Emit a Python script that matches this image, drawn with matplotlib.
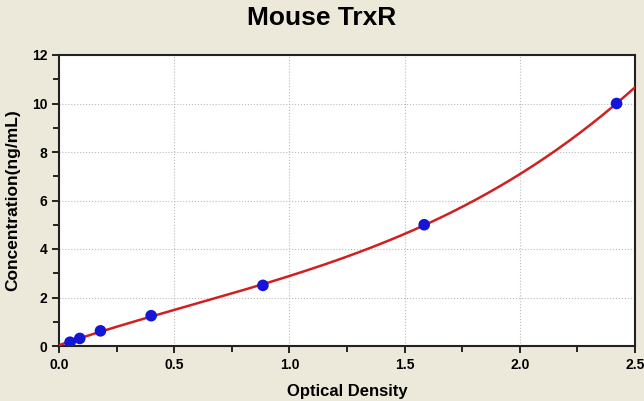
import numpy as np
import matplotlib
matplotlib.use("Agg")
import matplotlib.pyplot as plt
from matplotlib.ticker import MultipleLocator

# standard points (OD vs concentration)
od = [0.048, 0.09, 0.18, 0.40, 0.885, 1.585, 2.42]
conc = [0.156, 0.312, 0.625, 1.25, 2.5, 5.0, 10.0]

plt.rcParams['font.family'] = ['Liberation Sans', 'DejaVu Sans']
plt.rcParams['font.weight'] = 'bold'

bg = '#ECE9DA'
fig = plt.figure(figsize=(6.44, 4.01), dpi=100, facecolor=bg)
ax = fig.add_axes([59 / 644, 1 - 346 / 401, 576 / 644, 291 / 401])
ax.set_facecolor('white')

# fitted curve from the standards
coef = np.polyfit(od, conc, 3)
xs = np.linspace(0, 2.5, 200)
ax.plot(xs, np.polyval(coef, xs), color='#D02020', lw=1.8, zorder=3)
ax.scatter(od, conc, s=70, color='#1515D8', zorder=4, edgecolors='none')

ax.set_xlim(0, 2.5)
ax.set_ylim(0, 12)
ax.xaxis.set_major_locator(MultipleLocator(0.5))
ax.xaxis.set_minor_locator(MultipleLocator(0.25))
ax.yaxis.set_major_locator(MultipleLocator(2))
ax.yaxis.set_minor_locator(MultipleLocator(1))
ax.xaxis.set_major_formatter(plt.FuncFormatter(lambda v, p: f"{v:.1f}"))
ax.tick_params(which='both', direction='out', width=1.2, labelsize=10)
ax.tick_params(which='major', length=5)
ax.tick_params(which='minor', length=4)
ax.grid(True, which='major', linestyle=':', color='#BBBBBB', lw=0.8)
for s in ax.spines.values():
    s.set_color('#222222')
    s.set_linewidth(1.5)

ax.set_xlabel('Optical Density', fontsize=12, fontweight='bold', labelpad=9)
ax.set_ylabel('Concentration(ng/mL)', fontsize=12.5, fontweight='bold', labelpad=8)
fig.text(0.5, 0.955, 'Mouse TrxR', ha='center', va='center', fontsize=19, fontweight='bold')

fig.savefig('out.png', dpi=100, facecolor=bg)
